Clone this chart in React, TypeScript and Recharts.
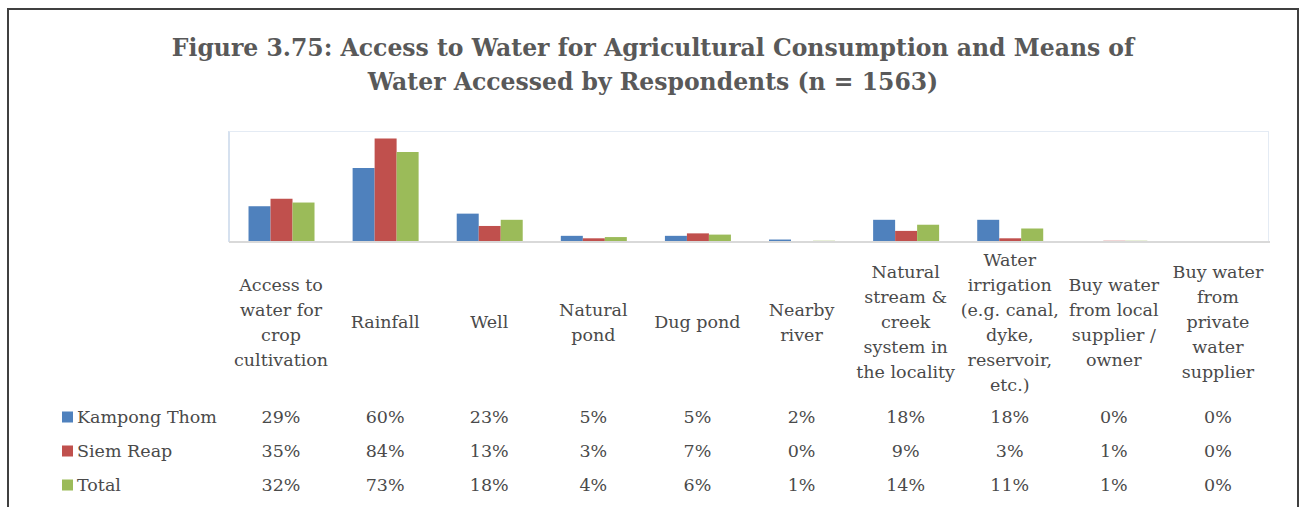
import React from 'react';
import { BarChart, Bar, XAxis, YAxis } from 'recharts';

// categories, each already split into the lines shown under the plot
const categoryLines: string[][] = [
  ['Access to', 'water for', 'crop', 'cultivation'],
  ['Rainfall'],
  ['Well'],
  ['Natural', 'pond'],
  ['Dug pond'],
  ['Nearby', 'river'],
  ['Natural', 'stream &', 'creek', 'system in', 'the locality'],
  ['Water', 'irrigation', '(e.g. canal,', 'dyke,', 'reservoir,', 'etc.)'],
  ['Buy water', 'from local', 'supplier /', 'owner'],
  ['Buy water', 'from', 'private', 'water', 'supplier'],
];

const kampongThom = [0.29, 0.6, 0.23, 0.05, 0.05, 0.02, 0.18, 0.18, 0.0, 0.0];
const siemReap = [0.35, 0.84, 0.13, 0.03, 0.07, 0.0, 0.09, 0.03, 0.01, 0.0];
const total = [0.32, 0.73, 0.18, 0.04, 0.06, 0.01, 0.14, 0.11, 0.01, 0.0];

const seriesNames = ['Kampong Thom', 'Siem Reap', 'Total'];
const seriesKeys = ['kampongThom', 'siemReap', 'total'];
const seriesColors = ['#4F81BD', '#C0504D', '#9BBB59'];
const seriesValues = [kampongThom, siemReap, total];

const title1 = 'Figure 3.75: Access to Water for Agricultural Consumption and Means of';
const title2 = 'Water Accessed by Respondents (n = 1563)';

const data = categoryLines.map((lines, i) => ({
  name: lines.join(' '),
  kampongThom: kampongThom[i],
  siemReap: siemReap[i],
  total: total[i],
}));

const FONT = '"DejaVu Serif", serif';
const TEXT = '#4a4a4a';
const pct = (v: number) => `${Math.round(v * 100)}%`;

// tick draws the wrapped category name plus its column of the data table
function TableTick(props: any) {
  const { x, y, payload } = props;
  const idx = payload.index;
  const lines = categoryLines[idx] || [];
  const lineH = 25;
  const labelMid = y + 80;
  const startY = labelMid - ((lines.length - 1) * lineH) / 2;
  const rowY = [y + 175, y + 209, y + 243];

  return (
    <g>
      {lines.map((t, i) => (
        <text
          key={i}
          x={x}
          y={startY + i * lineH}
          textAnchor="middle"
          dominantBaseline="central"
          fontFamily={FONT}
          fontSize={17.5}
          fill={TEXT}
        >
          {t}
        </text>
      ))}
      {seriesValues.map((vals, r) => (
        <text
          key={`v${r}`}
          x={x}
          y={rowY[r]}
          textAnchor="middle"
          dominantBaseline="central"
          fontFamily={FONT}
          fontSize={17.5}
          fill={TEXT}
        >
          {pct(vals[idx])}
        </text>
      ))}
      {/* row headers with legend keys, drawn once */}
      {idx === 0 &&
        seriesNames.map((n, r) => (
          <g key={`h${r}`}>
            <rect x={62} y={rowY[r] - 5.5} width={11} height={11} fill={seriesColors[r]} />
            <text
              x={77}
              y={rowY[r]}
              dominantBaseline="central"
              fontFamily={FONT}
              fontSize={17.5}
              fill={TEXT}
            >
              {n}
            </text>
          </g>
        ))}
    </g>
  );
}

export default function App() {
  return (
    <div style={{ position: 'absolute', left: 0, top: 0, width: 1301, height: 507, background: '#fff', overflow: 'hidden' }}>
      {/* outer frame */}
      <div
        style={{
          position: 'absolute',
          left: 7,
          top: 8,
          width: 1288,
          height: 540,
          border: '2px solid #404040',
        }}
      />

      {/* Title */}
      <div
        style={{
          position: 'absolute',
          left: 9,
          top: 31,
          width: 1288,
          textAlign: 'center',
          fontFamily: FONT,
          fontWeight: 'bold',
          fontSize: 23.5,
          lineHeight: '34px',
          color: '#595959',
          whiteSpace: 'nowrap',
        }}
      >
        <div>{title1}</div>
        <div>{title2}</div>
      </div>

      {/* plot area border */}
      <div
        style={{
          position: 'absolute',
          left: 228,
          top: 131,
          width: 1041,
          height: 111,
          border: '1px solid #E4EBF4',
          borderLeft: '2px solid #D6E1EF',
          boxSizing: 'border-box',
        }}
      />

      <div style={{ position: 'absolute', left: 0, top: 0 }}>
        <BarChart
          width={1301}
          height={507}
          data={data}
          margin={{ top: 131, right: 31, left: 229, bottom: 0 }}
          barCategoryGap="18.75%"
          barGap={0}
        >
          <YAxis hide domain={[0, 0.9]} />
          <XAxis
            dataKey="name"
            height={265}
            interval={0}
            tickLine={false}
            tickSize={0}
            tickMargin={0}
            axisLine={{ stroke: '#D9D9D9', strokeWidth: 2 }}
            tick={<TableTick />}
          />
          {seriesKeys.map((k, i) => (
            <Bar key={k} dataKey={k} name={seriesNames[i]} fill={seriesColors[i]} isAnimationActive={false} />
          ))}
        </BarChart>
      </div>
    </div>
  );
}
